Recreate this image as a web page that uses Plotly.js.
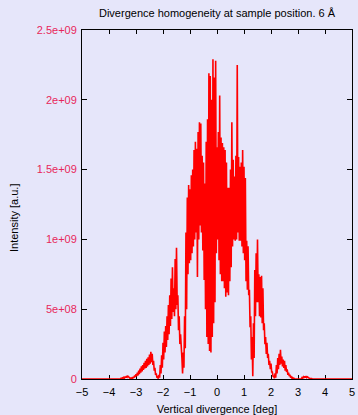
<!DOCTYPE html>
<html>
<head>
<meta charset="utf-8">
<script src="https://cdn.plot.ly/plotly-3.0.1.min.js"></script>
<style>
html, body { margin: 0; padding: 0; background: #e6e6fa; }
#chart { width: 358px; height: 415px; }
</style>
</head>
<body>
<div id="chart"></div>
<script>
// Histogram bins: first bin centre and bin width (deg)
const binStart = -3.8;
const binStep = 0.025;
// Intensity per bin, in units of 1e8 a.u.
const intensity = [
  0, 0,   0, 0,   0.02, 0,   0.03, 0.01,   0.05, 0.02,   0.06, 0.03,
  0.08, 0.05,   0.12, 0.07,   0.18, 0.1,   0.22, 0.14,   0.2, 0.12,   0.12, 0.06,
  0.06, 0.03,   0.08, 0.04,   0.15, 0.08,   0.25, 0.14,   0.35, 0.2,   0.45, 0.25,
  0.6, 0.35,   0.75, 0.45,   0.9, 0.55,   1.0, 0.65,   1.15, 0.75,   1.3, 0.8,
  1.45, 0.9,   1.55, 1.0,   1.75, 1.1,   1.95, 1.2,   1.8, 1.0,   1.3, 0.6,
  0.8, 0.3,   0.4, 0.1,   0.15, 0.02,   0.3, 0.1,   1.0, 0.4,   1.7, 0.8,
  2.6, 1.4,   3.4, 1.9,   3.8, 2.3,   4.5, 2.8,   5.3, 3.2,   6.0, 3.8,
  7.2, 4.3,   8.0, 4.8,   6.5, 4.5,   8.6, 5.0,   9.4, 5.3,   6.0, 3.5,
  4.5, 2.5,   3.2, 1.5,   1.5, 0.4,   1.9, 0.8,   4.5, 2.2,   10.5, 5.0,
  13.0, 7.5,   13.9, 8.3,   13.6, 8.5,   14.6, 9.0,   15.0, 9.5,   16.4, 10.0,
  17.0, 10.5,   16.5, 7.3,   17.7, 10.0,   18.4, 11.0,   18.3, 10.5,   16.0, 9.2,
  15.5, 7.1,   14.0, 5.0,   17.0, 3.0,   18.6, 2.5,   21.9, 2.0,   21.7, 1.9,
  20.0, 3.0,   22.9, 4.0,   21.6, 5.5,   22.8, 9.0,   16.6, 10.0,   17.7, 8.5,
  20.3, 7.5,   17.3, 7.0,   16.9, 7.0,   16.6, 6.5,   16.4, 5.9,   15.5, 6.2,
  13.7, 6.0,   13.7, 7.0,   15.0, 8.0,   18.4, 9.5,   15.7, 10.0,   14.5, 9.9,
  16.0, 10.0,   22.5, 10.5,   15.9, 9.9,   15.2, 9.9,   15.5, 9.5,   16.4, 9.0,
  15.2, 8.5,   14.4, 7.0,   9.9, 6.4,   9.5, 6.0,   6.4, 3.7,   4.5, 1.4,
  3.0, 0.2,   4.0, 1.5,   7.8, 4.5,   9.0, 5.5,   10.0, 5.5,   7.5, 4.5,
  7.3, 4.4,   7.4, 4.0,   6.5, 3.5,   4.0, 2.5,   3.0, 1.8,   2.6, 1.5,
  1.8, 1.0,   1.3, 0.7,   1.1, 0.5,   0.5, 0.2,   0.2, 0.05,   0.4, 0.1,
  1.0, 0.4,   1.5, 0.7,   1.8, 1.0,   2.1, 1.1,   1.6, 0.9,   1.4, 0.8,
  1.3, 0.6,   1.0, 0.5,   0.7, 0.3,   0.45, 0.2,   0.3, 0.1,   0.15, 0.05,
  0.1, 0.02,   0.05, 0,   0.02, 0,   0, 0,   0, 0,   0.02, 0,
  0.05, 0.02,   0.1, 0.05,   0.15, 0.08,   0.2, 0.1,   0.2, 0.1,   0.15, 0.08,
  0.08, 0.04,   0.05, 0.02,   0.03, 0.01,   0.02, 0,   0.01, 0,   0, 0,
  0, 0
];
const intensityUnit = 1e8;
// Empty range edges of the histogram (deg), intensity 0
const rangeEdges = [-5, 5];

const xTicks = [-5, -4, -3, -2, -1, 0, 1, 2, 3, 4, 5];
const yTicks = [0, 5e8, 1e9, 1.5e9, 2e9, 2.5e9];
const yTickLabels = ['0', '5e+08', '1e+09', '1.5e+09', '2e+09', '2.5e+09'];

const xs = [rangeEdges[0]];
const ys = [0];
intensity.forEach(function (v, i) {
  xs.push(binStart + i * binStep);
  ys.push(v * intensityUnit);
});
xs.push(rangeEdges[1]);
ys.push(0);

const font = 'Liberation Sans, Arial, Helvetica, sans-serif';

const trace = {
  x: xs, y: ys, type: 'scatter', mode: 'lines',
  line: { color: '#ff0000', width: 1.6 },
  hoverinfo: 'skip', showlegend: false
};

const layout = {
  width: 358, height: 415,
  paper_bgcolor: '#e6e6fa', plot_bgcolor: '#e6e6fa',
  margin: { l: 82, r: 6, t: 30, b: 36, pad: 0 },
  font: { family: font, size: 11, color: '#000' },
  showlegend: false,
  title: {
    text: 'Divergence homogeneity at sample position. 6 Å',
    font: { family: font, size: 11, color: '#000' },
    x: 0.5, xref: 'paper', y: 1 - 13 / 415, yref: 'container', yanchor: 'middle'
  },
  xaxis: {
    range: [-5, 5], tickmode: 'array', tickvals: xTicks,
    ticks: 'inside', ticklen: 4, tickwidth: 1, tickcolor: '#000',
    mirror: 'allticks', showline: true, linecolor: '#000', linewidth: 1,
    showgrid: false, zeroline: false, layer: 'below traces',
    ticklabelstandoff: 3,
    tickfont: { family: font, size: 11, color: '#000' },
    title: { text: 'Vertical divergence [deg]', font: { family: font, size: 11, color: '#000' }, standoff: 8 }
  },
  yaxis: {
    range: [0, 2.5e9], tickmode: 'array', tickvals: yTicks, ticktext: yTickLabels,
    ticks: 'inside', ticklen: 5, tickwidth: 1, tickcolor: '#000',
    mirror: 'allticks', showline: true, linecolor: '#000', linewidth: 1,
    showgrid: false, zeroline: false, layer: 'below traces',
    ticklabelstandoff: 2,
    tickfont: { family: font, size: 11, color: '#e8265a' }
  },
  annotations: [{
    text: 'Intensity [a.u.]', textangle: -90,
    xref: 'paper', yref: 'paper',
    x: (14 - 82) / 270, y: (379 - 218) / 349,
    xanchor: 'center', yanchor: 'middle', showarrow: false,
    font: { family: font, size: 11, color: '#000' }
  }]
};

Plotly.newPlot('chart', [trace], layout, { displayModeBar: false, staticPlot: true });
</script>
</body>
</html>
